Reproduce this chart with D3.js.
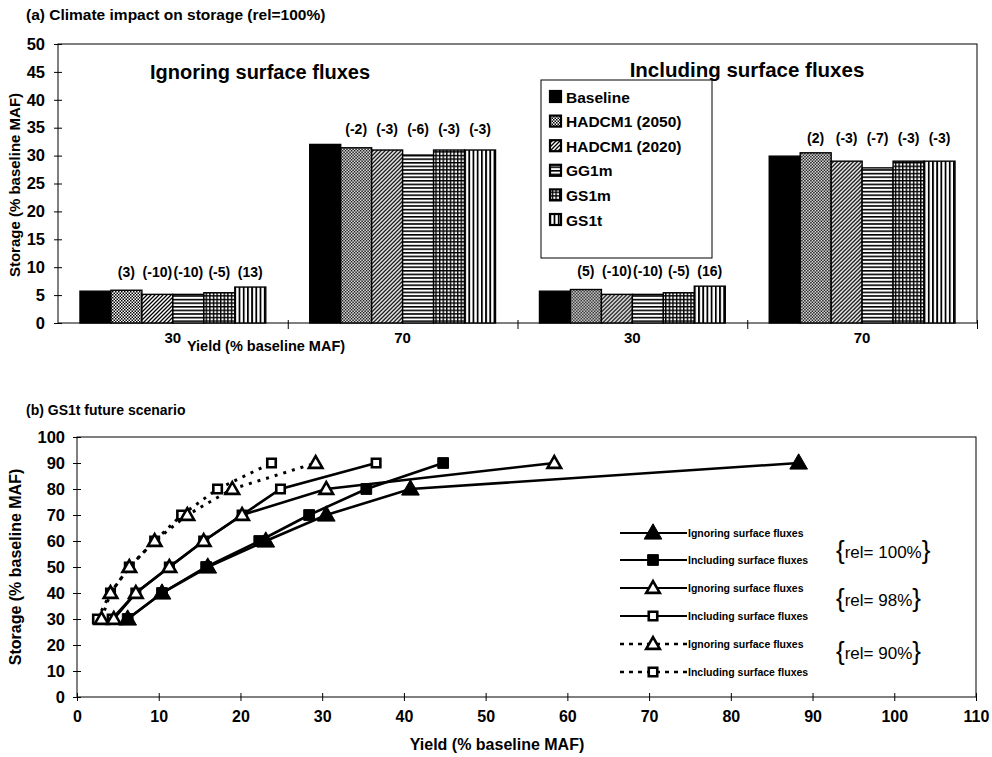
<!DOCTYPE html>
<html>
<head>
<meta charset="utf-8">
<script src="https://cdn.jsdelivr.net/npm/d3@7"></script>
<style>
  body { margin: 0; background: #fff; }
  svg { display: block; font-family: "Liberation Sans", Arial, sans-serif; font-weight: bold; }
  .narrow { font-family: "Liberation Sans Narrow", "Liberation Sans", Arial, sans-serif; }
</style>
</head>
<body>
<svg id="chart" width="992" height="757"></svg>
<script>
// ---- data, panel (a) ----
const categories = ["30", "70", "30", "70"];
const scenarios = ["Baseline", "HADCM1 (2050)", "HADCM1 (2020)", "GG1m", "GS1m", "GS1t"];
const storageIgn30 = [5.7, 5.87, 5.13, 5.13, 5.42, 6.44];
const storageIgn70 = [32.0, 31.4, 31.0, 30.1, 31.0, 31.0];
const storageInc30 = [5.7, 6.0, 5.13, 5.13, 5.42, 6.6];
const storageInc70 = [29.9, 30.5, 29.0, 27.8, 29.0, 29.0];
const changeIgn30 = ["", "(3)", "(-10)", "(-10)", "(-5)", "(13)"];
const changeIgn70 = ["", "(-2)", "(-3)", "(-6)", "(-3)", "(-3)"];
const changeInc30 = ["", "(5)", "(-10)", "(-10)", "(-5)", "(16)"];
const changeInc70 = ["", "(2)", "(-3)", "(-7)", "(-3)", "(-3)"];
const storageTicksA = [0, 5, 10, 15, 20, 25, 30, 35, 40, 45, 50];

// ---- data, panel (b) ----
const storageLevels = [30, 40, 50, 60, 70, 80, 90];
const rel100Ign = [6.2, 10.4, 16.0, 23.1, 30.5, 40.8, 88.3];
const rel100Inc = [6.2, 10.4, 15.8, 22.3, 28.4, 35.4, 44.8];
const rel98Ign = [4.5, 7.2, 11.3, 15.5, 20.2, 30.5, 58.4];
const rel98Inc = [4.3, 7.2, 11.3, 15.5, 20.2, 24.9, 36.6];
const rel90Ign = [3.0, 4.1, 6.4, 9.5, 13.5, 19.0, 29.2];
const rel90Inc = [2.5, 4.1, 6.4, 9.5, 12.8, 17.2, 23.8];
const yieldTicksB = [0, 10, 20, 30, 40, 50, 60, 70, 80, 90, 100, 110];
const storageTicksB = [0, 10, 20, 30, 40, 50, 60, 70, 80, 90, 100];

const svg = d3.select("#chart");

// patterns for the scenarios
const defs = svg.append("defs");
function pat(id, w, h, draw) {
  const p = defs.append("pattern").attr("id", id)
    .attr("patternUnits", "userSpaceOnUse").attr("width", w).attr("height", h);
  p.append("rect").attr("width", w).attr("height", h).attr("fill", "#fff");
  draw(p);
}
pat("p2050", 3, 3, p => {
  p.append("rect").attr("x", 0).attr("y", 0).attr("width", 1.5).attr("height", 1.5).attr("fill", "#000");
  p.append("rect").attr("x", 1.5).attr("y", 1.5).attr("width", 1.5).attr("height", 1.5).attr("fill", "#000");
});
pat("p2020", 4, 4, p => {
  p.append("path").attr("d", "M-1,1 L1,-1 M0,4 L4,0 M3,5 L5,3").attr("stroke", "#000").attr("stroke-width", 1.3);
});
pat("pGG1m", 4, 3.6, p => {
  p.append("rect").attr("y", 0).attr("width", 4).attr("height", 1.6).attr("fill", "#000");
});
pat("pGS1m", 3.6, 3.6, p => {
  p.append("rect").attr("width", 3.6).attr("height", 1.4).attr("fill", "#000");
  p.append("rect").attr("width", 1.4).attr("height", 3.6).attr("fill", "#000");
});
pat("pGS1t", 4.2, 4, p => {
  p.append("rect").attr("x", 0).attr("width", 1.8).attr("height", 4).attr("fill", "#000");
});
const fills = ["#000", "url(#p2050)", "url(#p2020)", "url(#pGG1m)", "url(#pGS1m)", "url(#pGS1t)"];

// make axis ticks cross the axis line like the original
function crossTicks(g, horizontal) {
  g.selectAll(".tick line").each(function () {
    const l = d3.select(this);
    if (horizontal) l.attr("y1", -4).attr("y2", 4);
    else l.attr("x1", -4).attr("x2", 4);
  });
  g.select(".domain").remove();
}

// ================= panel (a) =================
const A = { left: 58, right: 977, top: 44, bottom: 323 };
svg.append("text").attr("x", 26).attr("y", 20).attr("font-size", 15.5)
  .text("(a) Climate impact on storage (rel=100%)");

const groups = [
  { vals: storageIgn30, labs: changeIgn30 },
  { vals: storageIgn70, labs: changeIgn70 },
  { vals: storageInc30, labs: changeInc30 },
  { vals: storageInc70, labs: changeInc70 }
];
const xA = d3.scaleBand().domain(d3.range(categories.length)).range([A.left, A.right]);
const xInner = d3.scaleBand().domain(scenarios).range([0, xA.bandwidth()]).paddingOuter(0.71);
const yA = d3.scaleLinear().domain([0, 50]).range([A.bottom, A.top]);

svg.append("rect").attr("x", A.left).attr("y", A.top)
  .attr("width", A.right - A.left).attr("height", A.bottom - A.top)
  .attr("fill", "none").attr("stroke", "#000").attr("stroke-width", 1);

const gy = svg.append("g").attr("transform", `translate(${A.left},0)`)
  .call(d3.axisLeft(yA).tickValues(storageTicksA).tickSize(4).tickPadding(9));
crossTicks(gy, false);
gy.selectAll("text").attr("font-size", 16.5).attr("font-weight", "bold").attr("font-family", "Liberation Sans");

// category boundary ticks
const boundary = d3.scaleLinear().domain([0, categories.length]).range([A.left, A.right]);
const gb = svg.append("g").attr("transform", `translate(0,${A.bottom})`)
  .call(d3.axisBottom(boundary).tickValues(d3.range(1, categories.length + 1)).tickFormat("").tickSize(5));
gb.selectAll(".tick line").attr("y1", -3).attr("y2", 6);
gb.select(".domain").remove();

const gx = svg.append("g").attr("transform", `translate(0,${A.bottom})`)
  .call(d3.axisBottom(xA).tickSize(0).tickPadding(9).tickFormat(i => categories[i]));
gx.select(".domain").remove();
gx.selectAll("text").attr("font-size", 15).attr("font-weight", "bold").attr("font-family", "Liberation Sans");

groups.forEach((grp, gi) => {
  const g = svg.append("g").attr("transform", `translate(${xA(gi)},0)`);
  g.selectAll("rect").data(grp.vals).join("rect")
    .attr("x", (d, i) => xInner(scenarios[i]))
    .attr("y", d => yA(d))
    .attr("width", xInner.bandwidth())
    .attr("height", d => yA(0) - yA(d))
    .attr("fill", (d, i) => fills[i])
    .attr("stroke", "#000").attr("stroke-width", 1.4);
  const labY = yA(d3.max(grp.vals)) - 10;
  g.selectAll("text").data(grp.labs).join("text")
    .attr("x", (d, i) => xInner(scenarios[i]) + xInner.bandwidth() / 2)
    .attr("y", labY)
    .attr("text-anchor", "middle").attr("font-size", 14)
    .text(d => d);
});

svg.append("text").attr("x", 260).attr("y", 79).attr("text-anchor", "middle")
  .attr("font-size", 20).text("Ignoring surface fluxes");
svg.append("text").attr("x", 747).attr("y", 77).attr("text-anchor", "middle")
  .attr("font-size", 20.5).text("Including surface fluxes");

// legend (a)
const legA = svg.append("g").attr("transform", "translate(541,80)");
legA.append("rect").attr("width", 171).attr("height", 178)
  .attr("fill", "#fff").attr("stroke", "#000").attr("stroke-width", 1);
scenarios.forEach((s, i) => {
  const yy = 17 + i * 24.6;
  legA.append("rect").attr("x", 9).attr("y", yy - 6).attr("width", 11).attr("height", 11)
    .attr("fill", fills[i]).attr("stroke", "#000").attr("stroke-width", 2.2);
  legA.append("text").attr("x", 25).attr("y", yy + 5.5).attr("font-size", 15.5).text(s);
});

svg.append("text").attr("x", 266).attr("y", 351).attr("text-anchor", "middle")
  .attr("font-size", 14.5).text("Yield (% baseline MAF)");
svg.append("text").attr("transform", "translate(20,185) rotate(-90)").attr("text-anchor", "middle")
  .attr("font-size", 15).text("Storage (% baseline MAF)");

// ================= panel (b) =================
const B = { left: 77, right: 976, top: 437, bottom: 697 };
svg.append("text").attr("x", 26).attr("y", 415).attr("font-size", 14)
  .text("(b) GS1t future scenario");

const xB = d3.scaleLinear().domain([0, 110]).range([B.left, B.right]);
const yB = d3.scaleLinear().domain([0, 100]).range([B.bottom, B.top]);

svg.append("rect").attr("x", B.left).attr("y", B.top)
  .attr("width", B.right - B.left).attr("height", B.bottom - B.top)
  .attr("fill", "none").attr("stroke", "#000").attr("stroke-width", 1);

const gyB = svg.append("g").attr("transform", `translate(${B.left},0)`)
  .call(d3.axisLeft(yB).tickValues(storageTicksB).tickSize(4).tickPadding(8));
crossTicks(gyB, false);
gyB.selectAll("text").attr("font-size", 16.5).attr("font-weight", "bold").attr("font-family", "Liberation Sans");

const gxB = svg.append("g").attr("transform", `translate(0,${B.bottom})`)
  .call(d3.axisBottom(xB).tickValues(yieldTicksB).tickSize(4).tickPadding(10));
crossTicks(gxB, true);
gxB.selectAll("text").attr("font-size", 16).attr("font-weight", "bold")
  .attr("font-family", "Liberation Sans Narrow, Liberation Sans");

svg.append("text").attr("class", "narrow").attr("x", 497).attr("y", 750).attr("text-anchor", "middle")
  .attr("font-size", 16).text("Yield (% baseline MAF)");
svg.append("text").attr("transform", "translate(21,567) rotate(-90)").attr("text-anchor", "middle")
  .attr("font-size", 16).text("Storage (% baseline MAF)");

const seriesB = [
  { x: rel90Inc, marker: "square", open: true, dash: true, name: "Including surface fluxes" },
  { x: rel90Ign, marker: "triangle", open: true, dash: true, name: "Ignoring surface fluxes" },
  { x: rel98Inc, marker: "square", open: true, dash: false, name: "Including surface fluxes" },
  { x: rel98Ign, marker: "triangle", open: true, dash: false, name: "Ignoring surface fluxes" },
  { x: rel100Inc, marker: "square", open: false, dash: false, name: "Including surface fluxes" },
  { x: rel100Ign, marker: "triangle", open: false, dash: false, name: "Ignoring surface fluxes" }
];
const line = d3.line().x(d => xB(d[0])).y(d => yB(d[1]));
function markerPath(kind, open) {
  if (kind === "square") return d3.symbol().type(d3.symbolSquare).size(open ? 72 : 115)();
  return d3.symbol().type(d3.symbolTriangle).size(open ? 80 : 135)();
}
function drawMarker(g, s, x, y) {
  g.append("path").attr("transform", `translate(${x},${y + (s.marker === "triangle" ? 1 : 0)})`)
    .attr("d", markerPath(s.marker, s.open))
    .attr("fill", s.open ? "#fff" : "#000")
    .attr("stroke", "#000").attr("stroke-width", s.open ? 2.6 : 1);
}
const plotB = svg.append("g");
seriesB.forEach(s => {
  const pts = s.x.map((v, i) => [v, storageLevels[i]]);
  plotB.append("path").attr("d", line(pts)).attr("fill", "none")
    .attr("stroke", "#000").attr("stroke-width", s.dash ? 3 : 2.6)
    .attr("stroke-dasharray", s.dash ? "3,6" : null);
});
seriesB.forEach(s => {
  s.x.forEach((v, i) => drawMarker(plotB, s, xB(v), yB(storageLevels[i])));
});

// legend (b)
const legOrder = [5, 4, 3, 2, 1, 0];
const legRows = [533, 560, 588, 616, 644, 672];
legOrder.forEach((si, r) => {
  const s = seriesB[si];
  const yy = legRows[r];
  svg.append("line").attr("x1", 620).attr("x2", 687).attr("y1", yy).attr("y2", yy)
    .attr("stroke", "#000").attr("stroke-width", s.dash ? 2.5 : 1.8)
    .attr("stroke-dasharray", s.dash ? "4,5" : null);
  drawMarker(svg, s, 653, yy);
  svg.append("text").attr("class", "narrow").attr("x", 688).attr("y", yy + 3.5)
    .attr("font-size", 10.5).text(s.name);
});
[["100%", 552], ["98%", 600], ["90%", 653]].forEach(([rel, yy]) => {
  const t = svg.append("text").attr("x", 836).attr("y", yy + 6).attr("font-weight", "normal")
    .attr("font-family", "Liberation Sans, Arial, sans-serif");
  t.append("tspan").attr("font-size", 26).attr("dy", 1).text("{");
  t.append("tspan").attr("font-size", 17).attr("dy", -1).text("rel= " + rel);
  t.append("tspan").attr("font-size", 26).attr("dy", 1).text("}");
});
</script>
</body>
</html>
